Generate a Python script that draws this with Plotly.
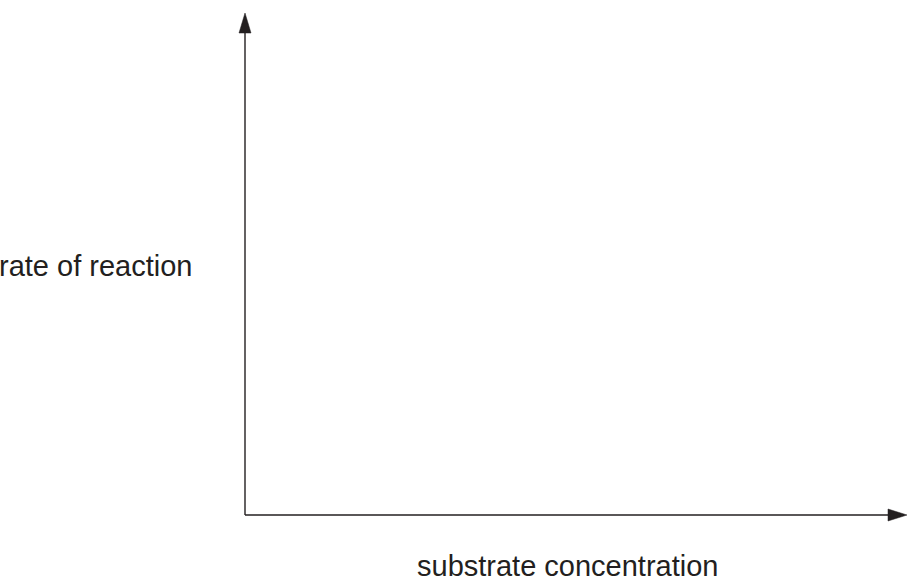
import plotly.graph_objects as go

# Chart content (a blank sketch of axes with labels)
x_label = "substrate concentration"
y_label = "rate of reaction"

W, H = 908, 586
ink = "#231f20"
font = dict(family="Liberation Sans, Arial, sans-serif", size=29, color=ink)

ox, oy = 245, 515      # origin (pixels)
ytop, xright = 13, 907  # arrow tips

fig = go.Figure()
fig.update_layout(
    width=W, height=H, margin=dict(l=0, r=0, t=0, b=0),
    paper_bgcolor="white", plot_bgcolor="white", showlegend=False,
    xaxis=dict(range=[0, W], visible=False, fixedrange=True),
    yaxis=dict(range=[H, 0], visible=False, fixedrange=True),
)

shapes = [
    dict(type="line", x0=ox, y0=oy, x1=ox, y1=ytop + 18, line=dict(color=ink, width=1.4)),
    dict(type="line", x0=ox, y0=oy, x1=xright - 18, y1=oy, line=dict(color=ink, width=1.4)),
    dict(type="path", path=f"M {ox},{ytop} L {ox-6},{ytop+20} L {ox+6},{ytop+20} Z",
         fillcolor=ink, line=dict(color=ink, width=0.5)),
    dict(type="path", path=f"M {xright},{oy} L {xright-19},{oy-6} L {xright-19},{oy+6} Z",
         fillcolor=ink, line=dict(color=ink, width=0.5)),
]
for s in shapes:
    s.update(xref="x", yref="y")
fig.update_layout(shapes=shapes)

fig.add_annotation(x=194, y=266, xref="x", yref="y", text=y_label, showarrow=False,
                   xanchor="right", yanchor="middle", font=font)
fig.add_annotation(x=567, y=566, xref="x", yref="y", text=x_label, showarrow=False,
                   xanchor="center", yanchor="middle", font=font)

fig.write_html(
    "out.html",
    config={"displayModeBar": False},
    post_script="document.body.style.margin='0';document.body.style.overflow='hidden';",
)
